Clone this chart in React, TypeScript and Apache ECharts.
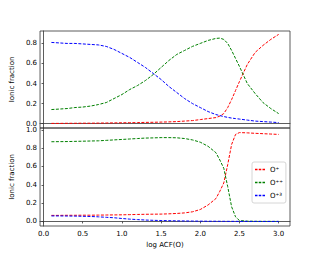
import React, { useEffect, useRef } from "react";
import * as echarts from "echarts";

const xs = [0.1, 0.2, 0.3, 0.4, 0.5, 0.6, 0.7, 0.8, 0.9, 1.0, 1.1, 1.2, 1.3, 1.4, 1.5, 1.6, 1.7, 1.8, 1.9, 2.0, 2.1, 2.2, 2.25, 2.3, 2.35, 2.4, 2.45, 2.5, 2.6, 2.7, 2.8, 2.9, 3.0];

const topRed = [0.002, 0.002, 0.003, 0.003, 0.004, 0.004, 0.005, 0.006, 0.007, 0.008, 0.009, 0.01, 0.012, 0.013, 0.015, 0.017, 0.02, 0.025, 0.03, 0.04, 0.05, 0.06, 0.075, 0.1, 0.16, 0.24, 0.33, 0.42, 0.59, 0.71, 0.78, 0.84, 0.89];
const topGreen = [0.14, 0.145, 0.15, 0.16, 0.165, 0.175, 0.19, 0.21, 0.25, 0.29, 0.34, 0.38, 0.43, 0.49, 0.56, 0.63, 0.69, 0.73, 0.77, 0.8, 0.83, 0.85, 0.853, 0.84, 0.8, 0.73, 0.65, 0.57, 0.4, 0.3, 0.21, 0.15, 0.1];
const topBlue = [0.81, 0.805, 0.8, 0.8, 0.795, 0.79, 0.785, 0.77, 0.74, 0.7, 0.66, 0.61, 0.56, 0.5, 0.44, 0.37, 0.31, 0.25, 0.2, 0.16, 0.12, 0.09, 0.08, 0.07, 0.062, 0.055, 0.05, 0.045, 0.035, 0.025, 0.02, 0.015, 0.01];

const botRed = [0.066, 0.066, 0.067, 0.067, 0.068, 0.068, 0.069, 0.07, 0.071, 0.072, 0.074, 0.076, 0.078, 0.079, 0.08, 0.083, 0.087, 0.093, 0.105, 0.13, 0.18, 0.25, 0.33, 0.42, 0.62, 0.84, 0.95, 0.97, 0.967, 0.962, 0.958, 0.954, 0.95];
const botGreen = [0.87, 0.871, 0.872, 0.874, 0.876, 0.878, 0.88, 0.885, 0.89, 0.895, 0.9, 0.905, 0.91, 0.912, 0.915, 0.915, 0.913, 0.905, 0.89, 0.865, 0.82, 0.75, 0.67, 0.58, 0.38, 0.16, 0.05, 0.01, 0.003, 0.001, 0, 0, 0];
const botBlue = [0.06, 0.06, 0.059, 0.058, 0.056, 0.054, 0.05, 0.045, 0.04, 0.032, 0.025, 0.02, 0.015, 0.012, 0.01, 0.008, 0.006, 0.005, 0.004, 0.003, 0.002, 0.002, 0.0015, 0.0012, 0.001, 0.001, 0.0008, 0.0005, 0.0003, 0.0002, 0.0001, 0.0001, 0];

const names = ["O\u207A", "O\u207A\u207A", "O\u207A\u00B3"];
const colors = ["#ff0000", "#008000", "#0000ff"];
const xTicks = [0, 0.5, 1.0, 1.5, 2.0, 2.5, 3.0];
const topYTicks = [0, 0.2, 0.4, 0.6, 0.8];
const botYTicks = [0, 0.2, 0.4, 0.6, 0.8, 1.0];

const FONT = "DejaVu Sans";
const DASH_ICON = "path://M0,0L3,0L3,1.8L0,1.8Z M4.5,0L7.5,0L7.5,1.8L4.5,1.8Z M9,0L12,0L12,1.8L9,1.8Z";

export default function App() {
  const ref = useRef<HTMLDivElement>(null);
  useEffect(() => {
    const chart = echarts.init(ref.current!, null, { renderer: "svg" });
    const mk = (arr: number[], i: number, gi: number) => ({
      type: "line",
      name: names[i],
      xAxisIndex: gi,
      yAxisIndex: gi,
      data: xs.map((x, k) => [x, arr[k]]),
      showSymbol: false,
      symbol: "none",
      color: colors[i],
      lineStyle: { color: colors[i], width: 1, type: [3, 1.5] },
      itemStyle: { color: colors[i] },
    });
    const yAxisBase = {
      type: "value",
      name: "Ionic fraction",
      nameLocation: "middle",
      nameGap: 20,
      nameTextStyle: { fontSize: 7, color: "#000", fontFamily: FONT },
      splitLine: { show: false },
      axisLine: { show: true, lineStyle: { color: "#333", width: 0.8 } },
      axisTick: { show: true, length: 2, lineStyle: { color: "#333", width: 0.8 } },
      axisLabel: { fontSize: 7, color: "#000", fontFamily: FONT, margin: 3, formatter: (v: number) => v.toFixed(1) },
    };
    chart.setOption({
      animation: false,
      color: colors,
      grid: [
        { left: 40, top: 31, width: 250, height: 97, show: true, borderColor: "#333", borderWidth: 0.8, backgroundColor: "transparent" },
        { left: 40, top: 128, width: 250, height: 98, show: true, borderColor: "#333", borderWidth: 0.8, backgroundColor: "transparent" },
      ],
      xAxis: [
        {
          type: "value", gridIndex: 0, min: -0.045, max: 3.145,
          splitLine: { show: false },
          axisLine: { show: true, lineStyle: { color: "#333", width: 0.8 } },
          axisTick: { show: false },
          axisLabel: { show: false },
        },
        {
          type: "value", gridIndex: 1, min: -0.045, max: 3.145,
          name: "log ACF(O)", nameLocation: "middle", nameGap: 15,
          nameTextStyle: { fontSize: 7, color: "#000", fontFamily: FONT },
          splitLine: { show: false },
          axisLine: { show: true, lineStyle: { color: "#333", width: 0.8 } },
          axisTick: { show: true, length: 2, customValues: xTicks, lineStyle: { color: "#333", width: 0.8 } },
          axisLabel: { fontSize: 7, color: "#000", fontFamily: FONT, margin: 4, customValues: xTicks, formatter: (v: number) => v.toFixed(1) },
        },
      ],
      yAxis: [
        {
          ...yAxisBase, gridIndex: 0, min: -0.044, max: 0.924,
          axisTick: { ...yAxisBase.axisTick, customValues: topYTicks },
          axisLabel: { ...yAxisBase.axisLabel, customValues: topYTicks },
        },
        {
          ...yAxisBase, gridIndex: 1, min: -0.05, max: 1.02,
          axisTick: { ...yAxisBase.axisTick, customValues: botYTicks },
          axisLabel: { ...yAxisBase.axisLabel, customValues: botYTicks },
        },
      ],
      legend: {
        data: names.map((n, i) => ({ name: n, icon: DASH_ICON, itemStyle: { color: colors[i], borderWidth: 0, opacity: 1 } })),
        orient: "vertical",
        left: 252,
        top: 162,
        itemWidth: 10,
        itemHeight: 1.5,
        itemGap: 6,
        padding: [4, 3, 4, 3],
        borderColor: "#ccc",
        borderWidth: 0.8,
        borderRadius: 2,
        backgroundColor: "#fff",
        textStyle: { fontSize: 7, color: "#000", fontFamily: FONT, padding: [0, 0, 0, 0] },
      },
      series: [
        mk(topRed, 0, 0), mk(topGreen, 1, 0), mk(topBlue, 2, 0),
        mk(botRed, 0, 1), mk(botGreen, 1, 1), mk(botBlue, 2, 1),
      ],
    });
    return () => chart.dispose();
  }, []);
  return <div ref={ref} style={{ width: 323, height: 258, position: "absolute", left: 0, top: 0 }} />;
}
